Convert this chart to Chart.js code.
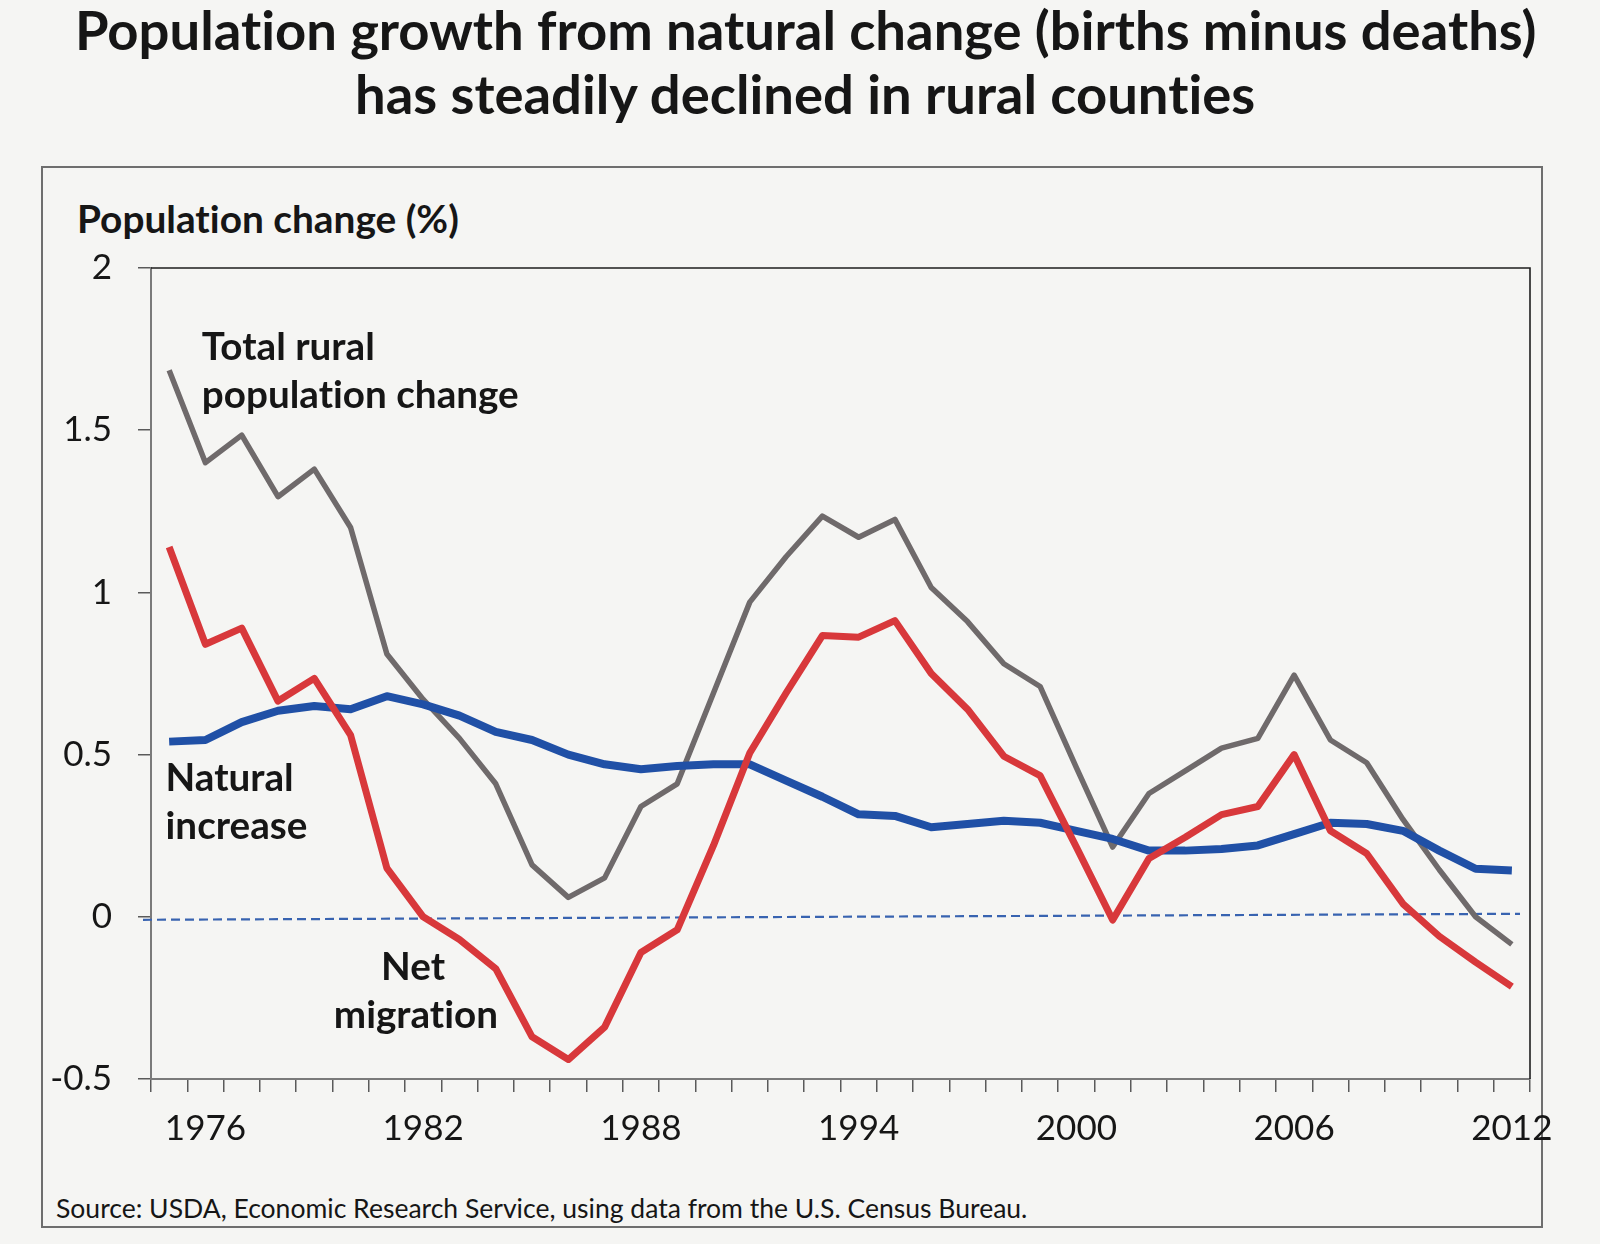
<!DOCTYPE html>
<html>
<head>
<meta charset="utf-8">
<script src="https://cdn.jsdelivr.net/npm/chart.js@4.4.1/dist/chart.umd.min.js"></script>
<style>
  html, body { margin: 0; padding: 0; background: #f5f5f3; }
  #wrap { position: relative; width: 1600px; height: 1244px; overflow: hidden; }
  #frame { position: absolute; left: 41px; top: 166px; width: 1502px; height: 1062px;
           border: 2px solid #6e6e6e; box-sizing: border-box; }
  #chart { position: absolute; left: 0; top: 0; }
  .txt { position: absolute; white-space: nowrap; font-family: Lato, sans-serif;
         color: #161616; line-height: 1.2; font-variant-ligatures: none; }
</style>
</head>
<body>
<div id="wrap">
  <div id="frame"></div>
  <div id="title1" class="txt" style="font-weight:bold">Population growth from natural change (births minus deaths)</div>
  <div id="title2" class="txt" style="font-weight:bold">has steadily declined in rural counties</div>
  <div id="ytitle" class="txt" style="font-weight:bold">Population change (%)</div>
  <div id="source" class="txt">Source: USDA, Economic Research Service, using data from the U.S. Census Bureau.</div>
  <canvas id="chart" width="1600" height="1244"></canvas>
</div>
<script>
// Years on the x axis (one point per year)
const years = [1975, 1976, 1977, 1978, 1979, 1980, 1981, 1982, 1983, 1984,
               1985, 1986, 1987, 1988, 1989, 1990, 1991, 1992, 1993, 1994,
               1995, 1996, 1997, 1998, 1999, 2000, 2001, 2002, 2003, 2004,
               2005, 2006, 2007, 2008, 2009, 2010, 2011, 2012];

// Total rural population change (%)
const totalChange = [1.685, 1.40, 1.485, 1.295, 1.38, 1.20, 0.81, 0.67, 0.55, 0.41,
                     0.16, 0.06, 0.12, 0.34, 0.41, 0.69, 0.97, 1.11, 1.235, 1.17,
                     1.225, 1.015, 0.91, 0.78, 0.71, 0.46, 0.215, 0.38, 0.45, 0.52,
                     0.55, 0.745, 0.545, 0.475, 0.30, 0.145, 0.0, -0.085];

// Net migration (%)
const netMigration = [1.14, 0.84, 0.89, 0.665, 0.735, 0.56, 0.15, 0.0, -0.07, -0.16,
                      -0.37, -0.44, -0.34, -0.11, -0.04, 0.22, 0.505, 0.69, 0.867, 0.862,
                      0.913, 0.75, 0.64, 0.495, 0.435, 0.215, -0.01, 0.18, 0.245, 0.315,
                      0.34, 0.50, 0.265, 0.195, 0.04, -0.06, -0.14, -0.215];

// Natural increase (births minus deaths, %)
const naturalIncrease = [0.54, 0.545, 0.60, 0.635, 0.65, 0.64, 0.68, 0.655, 0.62, 0.57,
                         0.545, 0.50, 0.47, 0.455, 0.465, 0.47, 0.47, 0.42, 0.37, 0.316,
                         0.311, 0.276, 0.286, 0.296, 0.29, 0.265, 0.24, 0.204, 0.204, 0.209,
                         0.22, 0.255, 0.29, 0.286, 0.265, 0.204, 0.148, 0.143];

// Tick labels
const xTickLabels = ['1976', '1982', '1988', '1994', '2000', '2006', '2012'];
const yTickLabels = ['-0.5', '0', '0.5', '1', '1.5', '2'];

// Plot area in page pixels
const PLOT = { left: 151, right: 1530, top: 268, bottom: 1079 };
const X_AXIS_H = 80;

// Series labels drawn inside the plot, placed in data units (year, value)
const seriesLabels = [
    { text: 'Total rural', year: 1975.9, value: 1.717, align: 'left' },
    { text: 'population change', year: 1975.9, value: 1.569, align: 'left' },
    { text: 'Natural', year: 1974.9, value: 0.388, align: 'left' },
    { text: 'increase', year: 1974.9, value: 0.24, align: 'left' },
    { text: 'Net', year: 1981.72, value: -0.194, align: 'center' },
    { text: 'migration', year: 1981.8, value: -0.342, align: 'center' }
];

const measureCtx = document.createElement('canvas').getContext('2d');
if ('letterSpacing' in measureCtx) measureCtx.letterSpacing = '0.01px';

// Font size that makes the text the given width
function fitSize(text, weight, width) {
    measureCtx.font = weight + ' 100px Lato';
    return 100 * width / measureCtx.measureText(text).width;
}

function textWidth(text, weight, size) {
    measureCtx.font = weight + ' ' + size + 'px Lato';
    return measureCtx.measureText(text).width;
}

// Place an html text by its baseline (Lato ascent is about 0.987em)
function placeText(id, size, x, baseline, align) {
    const el = document.getElementById(id);
    const weight = el.style.fontWeight || 'normal';
    el.style.fontSize = size + 'px';
    let left = x;
    if (align === 'center') {
        left = x - textWidth(el.textContent, weight, size) / 2;
    }
    el.style.left = left + 'px';
    el.style.top = (baseline - 0.987 * size) + 'px';
}

const titleSize = fitSize('Population growth from natural change (births minus deaths)', 'bold', 1462);
placeText('title1', titleSize, 806, 51, 'center');
placeText('title2', titleSize, 806, 115, 'center');
placeText('ytitle', fitSize('Population change (%)', 'bold', 382), 77, 233, 'left');
placeText('source', fitSize('Source: USDA, Economic Research Service, using data from the U.S. Census Bureau.', 'normal', 972), 56, 1219, 'left');

const labelSize = fitSize('population change', 'bold', 317);

// Plot box, zero line and series labels
const decorPlugin = {
    id: 'decor',
    beforeDatasetsDraw(chart) {
        const { ctx, chartArea, scales } = chart;
        const y0 = scales.y.getPixelForValue(0);
        ctx.save();
        ctx.strokeStyle = '#3863b0';
        ctx.lineWidth = 2.2;
        ctx.setLineDash([9, 5]);
        ctx.beginPath();
        ctx.moveTo(chartArea.left - 8, y0 + 3);
        ctx.lineTo(chartArea.right - 10, y0 - 3);
        ctx.stroke();
        ctx.restore();
    },
    afterDatasetsDraw(chart) {
        const { ctx, chartArea, scales } = chart;
        ctx.save();
        ctx.strokeStyle = '#1e1e1e';
        ctx.lineWidth = 1.6;
        ctx.beginPath();
        ctx.moveTo(chartArea.left, chartArea.top);
        ctx.lineTo(chartArea.right, chartArea.top);
        ctx.lineTo(chartArea.right, chartArea.bottom);
        ctx.stroke();

        const x0 = scales.x.getPixelForValue(0);
        const step = scales.x.getPixelForValue(1) - x0;
        ctx.fillStyle = '#161616';
        ctx.font = 'bold ' + labelSize + 'px Lato';
        if ('letterSpacing' in ctx) ctx.letterSpacing = '0.01px';
        ctx.textBaseline = 'alphabetic';
        seriesLabels.forEach(l => {
            ctx.textAlign = l.align;
            ctx.fillText(l.text, x0 + (l.year - years[0]) * step, scales.y.getPixelForValue(l.value));
        });
        ctx.restore();
    }
};

new Chart(document.getElementById('chart').getContext('2d'), {
    type: 'line',
    data: {
        labels: years.map(String),
        datasets: [
            {
                label: 'Net migration',
                data: netMigration,
                borderColor: '#d8383b',
                borderWidth: 7,
                order: 1
            },
            {
                label: 'Natural increase',
                data: naturalIncrease,
                borderColor: '#2050a6',
                borderWidth: 8,
                order: 2
            },
            {
                label: 'Total rural population change',
                data: totalChange,
                borderColor: '#6f6a6b',
                borderWidth: 5.5,
                order: 3
            }
        ]
    },
    options: {
        responsive: false,
        animation: false,
        devicePixelRatio: 1,
        elements: {
            line: { tension: 0, fill: false, borderJoinStyle: 'round', borderCapStyle: 'butt' },
            point: { radius: 0, hoverRadius: 0 }
        },
        layout: {
            padding: { left: 0, top: PLOT.top, right: 1600 - PLOT.right, bottom: 1244 - PLOT.bottom - X_AXIS_H }
        },
        plugins: {
            legend: { display: false },
            tooltip: { enabled: false },
            title: { display: false }
        },
        scales: {
            x: {
                type: 'category',
                offset: true,
                grid: { offset: true, drawOnChartArea: false, drawTicks: true, tickLength: 13, color: '#5a5a5a', lineWidth: 1.5 },
                border: { display: true, color: '#7a7a7a', width: 2 },
                ticks: {
                    autoSkip: false,
                    maxRotation: 0,
                    minRotation: 0,
                    padding: 16,
                    color: '#161616',
                    font: { family: 'Lato', size: 35 },
                    callback: function (value, index) {
                        const lbl = String(years[index]);
                        return xTickLabels.includes(lbl) ? lbl : '';
                    }
                },
                afterFit: function (scale) { scale.height = X_AXIS_H; }
            },
            y: {
                min: -0.5,
                max: 2,
                grid: { drawOnChartArea: false, drawTicks: true, tickLength: 13, color: '#5a5a5a', lineWidth: 1.5 },
                border: { display: true, color: '#7a7a7a', width: 2 },
                ticks: {
                    stepSize: 0.5,
                    padding: 26,
                    color: '#161616',
                    font: { family: 'Lato', size: 35 },
                    callback: function (value) {
                        const lbl = String(Math.round(value * 10) / 10);
                        return yTickLabels.includes(lbl) ? lbl : '';
                    }
                },
                afterFit: function (scale) { scale.width = PLOT.left; }
            }
        }
    },
    plugins: [decorPlugin]
});
</script>
</body>
</html>
